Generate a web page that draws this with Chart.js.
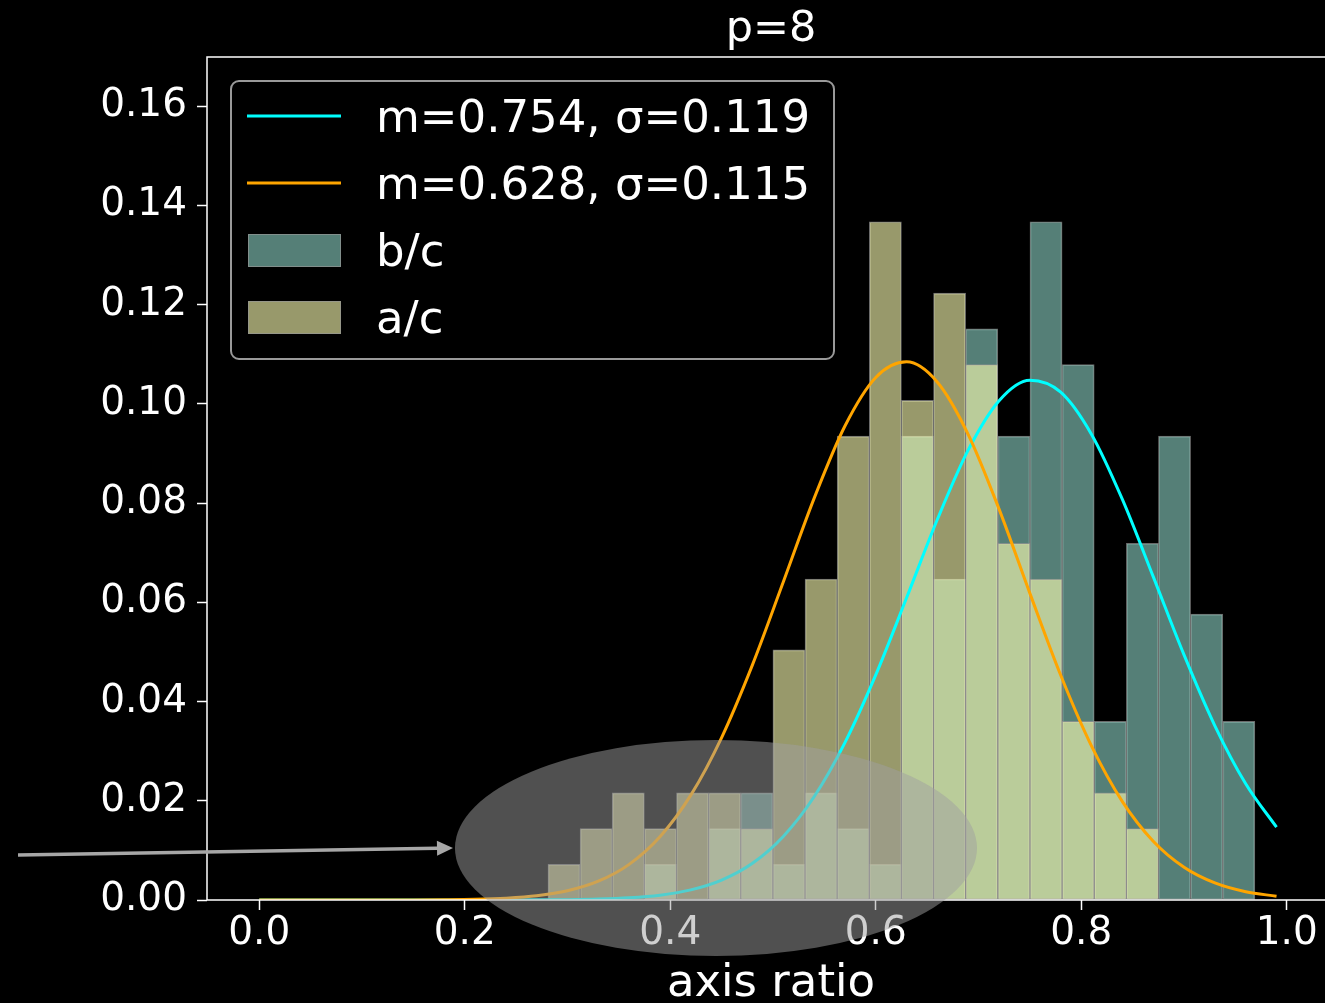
<!DOCTYPE html>
<html>
<head>
<meta charset="utf-8">
<script src="https://cdn.jsdelivr.net/npm/chart.js@4.4.1/dist/chart.umd.min.js"></script>
<style>
  html, body { margin: 0; padding: 0; background: #000; overflow: hidden; }
  #wrap { width: 1325px; height: 1003px; overflow: hidden; }
</style>
</head>
<body>
<div id="wrap"><canvas id="chart" width="1350" height="1003"></canvas></div>
<script>
// p=8 axis ratio histograms (weights = 1/N) and their gaussian fits
const binEdges = [0.2810, 0.3123, 0.3435, 0.3748, 0.4061, 0.4374, 0.4686, 0.4999,
  0.5312, 0.5624, 0.5937, 0.6250, 0.6562, 0.6875, 0.7188, 0.7501, 0.7813,
  0.8126, 0.8439, 0.8751, 0.9064, 0.9377, 0.9689];
const bcFrac = [0, 0, 0, 0.0072, 0, 0.0144, 0.0216, 0.0072, 0.0216, 0.0144, 0.0072,
  0.0935, 0.0647, 0.1151, 0.0935, 0.1367, 0.1079, 0.0360, 0.0719, 0.0935, 0.0576, 0.0360];
const acFrac = [0.0072, 0.0144, 0.0216, 0.0144, 0.0216, 0.0216, 0.0144, 0.0504, 0.0647,
  0.0935, 0.1367, 0.1007, 0.1223, 0.1079, 0.0719, 0.0647, 0.0360, 0.0216, 0.0144, 0, 0, 0];

const fitX = [0, 0.03, 0.06, 0.09, 0.12, 0.15, 0.18, 0.21, 0.24, 0.27, 0.30, 0.33,
  0.36, 0.39, 0.42, 0.45, 0.48, 0.51, 0.54, 0.57, 0.60, 0.63, 0.66, 0.69, 0.72,
  0.75, 0.78, 0.81, 0.84, 0.87, 0.90, 0.93, 0.96, 0.99];
const bcFit = [0, 0, 0, 0, 0, 0, 0, 0, 0.00001, 0.00003, 0.00007, 0.00018,
  0.00044, 0.00098, 0.00204, 0.00401, 0.00740, 0.01281, 0.02080, 0.03172, 0.04537,
  0.06091, 0.07673, 0.09071, 0.10063, 0.10476, 0.10235, 0.09383, 0.08073, 0.06518,
  0.04939, 0.03511, 0.02343, 0.01467];
const acFit = [0, 0, 0, 0, 0.00001, 0.00002, 0.00006, 0.00015, 0.00037, 0.00085,
  0.00186, 0.00378, 0.00718, 0.01275, 0.02113, 0.03274, 0.04739, 0.06408, 0.08094,
  0.09553, 0.10531, 0.10846, 0.10436, 0.09381, 0.07877, 0.06180, 0.04529, 0.03101,
  0.01983, 0.01185, 0.00661, 0.00345, 0.00168, 0.00076];

const xTicks = [0, 0.2, 0.4, 0.6, 0.8, 1.0];
const yTicks = [0, 0.02, 0.04, 0.06, 0.08, 0.10, 0.12, 0.14, 0.16];
const bcLabel = 'm=0.754, σ=0.119';
const acLabel = 'm=0.628, σ=0.115';
const titleText = 'p=8';
const xTitle = 'axis ratio';

// highlight added on top of the plot (data coordinates)
const note = { cx: 0.4445, cy: 0.01048, rx: 0.254, ry: 0.02176, fromX: -0.2347, fromY: 0.00907, toX: 0.1886, toY: 0.01048 };

const FONT = "'DejaVu Sans', sans-serif";
const centers = binEdges.slice(0, -1).map((e, i) => (e + binEdges[i + 1]) / 2);
const EDGE = 'rgba(150,150,150,0.7)';

function barSet(label, vals, color) {
  return {
    type: 'bar', label,
    data: centers.map((x, i) => ({ x, y: vals[i] })),
    backgroundColor: color, borderColor: EDGE, borderWidth: 1, borderSkipped: false,
    grouped: false, barPercentage: 1, categoryPercentage: 1,
  };
}
function lineSet(label, vals, color) {
  return {
    type: 'line', label,
    data: fitX.map((x, i) => ({ x, y: vals[i] })),
    borderColor: color, borderWidth: 3, pointRadius: 0,
    cubicInterpolationMode: 'monotone', fill: false,
  };
}

const acLine = { ...lineSet(acLabel, acFit, '#ffa500'), order: 0 };
const bcLine = { ...lineSet(bcLabel, bcFit, '#00ffff'), order: 1 };
const acBars = { ...barSet('a/c', acFrac, 'rgba(254,255,179,0.6)'), order: 2 };
const bcBars = { ...barSet('b/c', bcFrac, 'rgba(141,211,199,0.6)'), order: 3 };

const decorations = {
  id: 'decorations',
  afterDatasetsDraw(chart) {
    const { ctx, chartArea: a } = chart;
    ctx.save();
    // spines
    ctx.strokeStyle = '#fff';
    ctx.lineWidth = 1.5;
    ctx.strokeRect(a.left, a.top, a.right - a.left, a.bottom - a.top);

    // legend box
    ctx.beginPath();
    ctx.roundRect(231, 81, 603, 278, 8);
    ctx.fillStyle = 'rgba(0,0,0,0.8)';
    ctx.fill();
    ctx.strokeStyle = 'rgba(255,255,255,0.6)';
    ctx.lineWidth = 2;
    ctx.stroke();

    const items = [bcLine, acLine, bcBars, acBars];
    ctx.font = `45px ${FONT}`;
    ctx.textBaseline = 'alphabetic';
    ctx.textAlign = 'left';
    items.forEach((ds, i) => {
      const cy = 116 + 67 * i;
      if (ds.type === 'line') {
        ctx.strokeStyle = ds.borderColor;
        ctx.lineWidth = 3;
        ctx.beginPath();
        ctx.moveTo(247, cy);
        ctx.lineTo(341, cy);
        ctx.stroke();
      } else {
        ctx.fillStyle = ds.backgroundColor;
        ctx.fillRect(248, cy - 16, 93, 33);
        ctx.strokeStyle = EDGE;
        ctx.lineWidth = 1;
        ctx.strokeRect(248.5, cy - 15.5, 92, 32);
      }
      ctx.fillStyle = '#fff';
      ctx.fillText(ds.label, 376, cy + 16);
    });
    ctx.restore();
  },
  afterDraw(chart) {
    const { ctx, chartArea: a, scales: { x, y } } = chart;
    ctx.save();
    ctx.fillStyle = '#fff';
    ctx.textAlign = 'center';
    ctx.textBaseline = 'alphabetic';
    const mid = (a.left + a.right) / 2;
    ctx.font = `43px ${FONT}`;
    ctx.fillText(titleText, mid, 41);
    ctx.font = `45px ${FONT}`;
    ctx.fillText(xTitle, mid, 996);

    // ellipse
    const ex = x.getPixelForValue(note.cx), ey = y.getPixelForValue(note.cy);
    const rx = x.getPixelForValue(note.cx + note.rx) - ex;
    const ry = ey - y.getPixelForValue(note.cy + note.ry);
    ctx.beginPath();
    ctx.ellipse(ex, ey, rx, ry, 0, 0, Math.PI * 2);
    ctx.fillStyle = 'rgba(160,160,160,0.5)';
    ctx.fill();

    // arrow
    const x0 = x.getPixelForValue(note.fromX), y0 = y.getPixelForValue(note.fromY);
    const x1 = x.getPixelForValue(note.toX), y1 = y.getPixelForValue(note.toY);
    const ang = Math.atan2(y1 - y0, x1 - x0);
    const hl = 16, hw = 7.5;
    const bx = x1 - hl * Math.cos(ang), by = y1 - hl * Math.sin(ang);
    ctx.strokeStyle = '#a6a6a6';
    ctx.fillStyle = '#a6a6a6';
    ctx.lineWidth = 3.5;
    ctx.beginPath();
    ctx.moveTo(x0, y0);
    ctx.lineTo(bx, by);
    ctx.stroke();
    ctx.beginPath();
    ctx.moveTo(x1, y1);
    ctx.lineTo(bx - hw * Math.sin(ang), by + hw * Math.cos(ang));
    ctx.lineTo(bx + hw * Math.sin(ang), by - hw * Math.cos(ang));
    ctx.closePath();
    ctx.fill();
    ctx.restore();
  },
};

const tickGrid = { offset: false, drawOnChartArea: false, drawTicks: true, tickLength: 10, color: '#fff', tickColor: '#fff', tickWidth: 1.5 };

new Chart(document.getElementById('chart'), {
  type: 'bar',
  data: { datasets: [acLine, bcLine, acBars, bcBars] },
  options: {
    responsive: false,
    devicePixelRatio: 1,
    animation: false,
    layout: { padding: { top: 57, right: 15, left: 0, bottom: 0 } },
    plugins: { legend: { display: false }, tooltip: { enabled: false }, title: { display: false } },
    scales: {
      x: {
        type: 'linear', min: -0.0508, max: 1.0469, offset: false,
        afterBuildTicks: (s) => { s.ticks = xTicks.map((v) => ({ value: v })); },
        afterFit: (s) => { s.height = 103; },
        ticks: { color: '#fff', font: { family: FONT, size: 39 }, padding: 0, autoSkip: false, maxRotation: 0,
          callback: (v) => v.toFixed(1) },
        grid: tickGrid,
        border: { display: false },
      },
      y: {
        min: 0, max: 0.1699,
        afterBuildTicks: (s) => { s.ticks = yTicks.map((v) => ({ value: v })); },
        afterFit: (s) => { s.width = 207; },
        ticks: { color: '#fff', font: { family: FONT, size: 39 }, padding: 10,
          callback: (v) => v.toFixed(2) },
        grid: tickGrid,
        border: { display: false },
      },
    },
  },
  plugins: [decorations],
});
</script>
</body>
</html>
